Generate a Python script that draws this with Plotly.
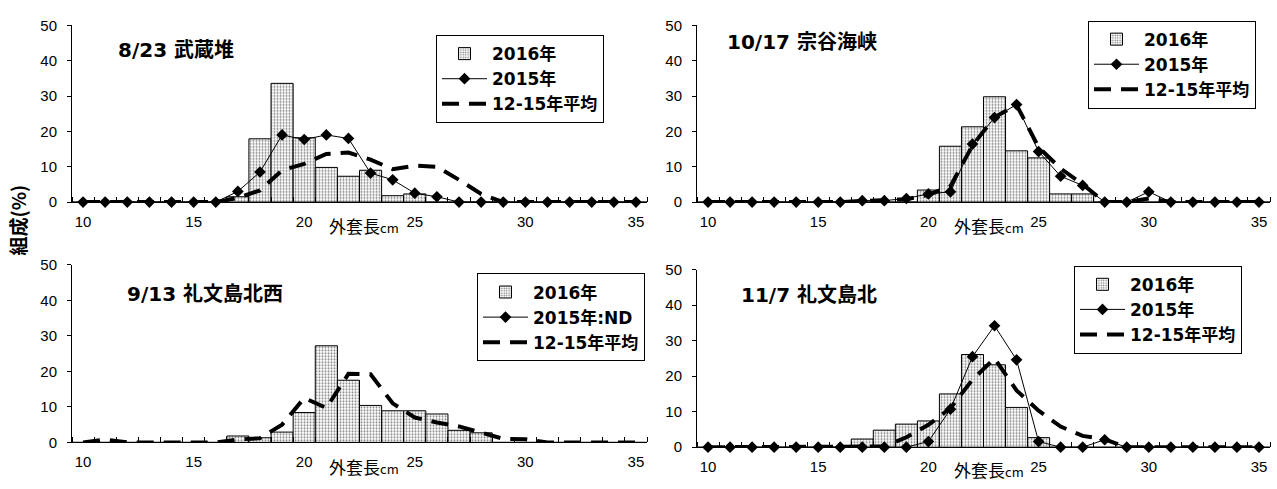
import plotly.graph_objects as go

# ---------------- data ----------------
lengths = list(range(10, 36))  # 外套長 cm categories 10..35
x_tick_labels = [10, 15, 20, 25, 30, 35]
y_tick_labels = [0, 10, 20, 30, 40, 50]

titles = ["8/23 武蔵堆", "10/17 宗谷海峡", "9/13 礼文島北西", "11/7 礼文島北"]
series_names = ["2016年", "2015年", "12-15年平均"]
nd_name = "2015年:ND"

#            10 11 12 13 14 15 16  17    18    19    20    21    22    23    24   25    26    27   28   29 30 31 32 33 34 35
bar_0823 = [0, 0, 0, 0, 0, 0, 0, 1.5, 17.9, 33.6, 18.2, 9.8, 7.3, 9.0, 1.8, 2.3, 0, 0, 0, 0, 0, 0, 0, 0, 0, 0]
y15_0823 = [0, 0, 0, 0, 0, 0, 0, 3.0, 8.5, 19.0, 17.7, 19.0, 18.0, 8.2, 6.3, 2.5, 1.5, 0, 0, 0, 0, 0, 0, 0, 0, 0]
avg_0823 = [0, 0, 0, 0, 0, 0, 0, 1.2, 3.3, 9.0, 10.8, 13.6, 14.0, 12.0, 9.3, 10.3, 10.0, 6.3, 2.3, 0, 0, 0, 0, 0, 0, 0]

bar_1017 = [0, 0, 0, 0, 0, 0, 0, 0, 0, 0, 3.4, 15.8, 21.3, 29.8, 14.5, 12.5, 2.3, 2.3, 0, 0, 0, 0, 0, 0, 0, 0]
y15_1017 = [0, 0, 0, 0, 0, 0, 0, 0.4, 0.4, 1.0, 2.3, 2.9, 16.4, 23.9, 27.6, 14.3, 7.3, 4.7, 0, 0, 2.9, 0, 0, 0, 0, 0]
avg_1017 = [0, 0, 0, 0, 0, 0, 0, 0.3, 0.5, 0.8, 2.0, 4.5, 16.0, 24.0, 27.5, 15.5, 9.5, 5.0, 0, 0, 1.0, 0, 0, 0, 0, 0]

bar_0913 = [0, 0, 0, 0, 0, 0, 0, 1.8, 1.3, 2.9, 8.4, 27.2, 17.5, 10.4, 8.9, 8.9, 8.0, 3.4, 2.7, 0, 0, 0, 0, 0, 0, 0]
avg_0913 = [0, 0.8, 0, 0, 0, 0, 0, 0.8, 1.2, 5.0, 12.5, 9.7, 19.3, 19.2, 11.0, 7.0, 5.6, 4.5, 2.8, 1.0, 0.9, 0, 0, 0, 0, 0]

bar_1107 = [0, 0, 0, 0, 0, 0, 0, 2.3, 4.8, 6.5, 7.4, 15.0, 26.1, 23.2, 11.2, 2.7, 0, 0, 0, 0, 0, 0, 0, 0, 0, 0]
y15_1107 = [0, 0, 0, 0, 0, 0, 0, 0, 0, 0, 1.6, 10.7, 25.5, 34.2, 24.6, 1.6, 0, 0, 2.1, 0, 0, 0, 0, 0, 0, 0]
avg_1107 = [0, 0, 0, 0, 0, 0, 0, 0, 0.2, 2.8, 6.3, 11.0, 19.0, 25.0, 16.0, 10.3, 5.8, 3.2, 2.2, 0, 0, 0, 0, 0, 0, 0]

# ---------------- layout helpers ----------------
W, H = 1277, 489
CJK = "Noto Sans CJK JP"
BOLDMIX = "DejaVu Sans, Noto Sans CJK JP"
NUM = "Liberation Sans"


def px(v):
    return v / W


def py(v):
    return 1 - v / H


panels = [
    # (xaxis id, yaxis id, x-domain px, y0 px, y50 px)
    ("x", "y", (72, 647), 200, 17),
    ("x2", "y2", (697, 1270), 200, 17),
    ("x3", "y3", (72, 647), 449, 265),
    ("x4", "y4", (697, 1270), 454, 270),
]

fig = go.Figure()

data_sets = [
    (bar_0823, y15_0823, avg_0823, series_names[1]),
    (bar_1017, y15_1017, avg_1017, series_names[1]),
    (bar_0913, None, avg_0913, nd_name),
    (bar_1107, y15_1107, avg_1107, series_names[1]),
]

legend_names = ["legend", "legend2", "legend3", "legend4"]

for i, ((xa, ya, _, _, _), (bars, y15, avg, lname)) in enumerate(zip(panels, data_sets)):
    leg = legend_names[i]
    fig.add_trace(go.Bar(
        x=lengths, y=bars, width=1, name=series_names[0], xaxis=xa, yaxis=ya,
        legend=leg,
        marker=dict(color="white", line=dict(color="black", width=1),
                    pattern=dict(shape=".", fgcolor="black", bgcolor="white",
                                 size=3, solidity=0.35)),
        cliponaxis=False,
    ))
    line_kw = dict(mode="lines+markers", line=dict(color="black", width=1),
                   marker=dict(symbol="diamond", size=9, color="black"))
    if y15 is not None:
        fig.add_trace(go.Scatter(x=lengths, y=y15, name=lname, xaxis=xa, yaxis=ya,
                                 legend=leg, cliponaxis=False, **line_kw))
    else:
        fig.add_trace(go.Scatter(x=[None], y=[None], name=lname, xaxis=xa, yaxis=ya,
                                 legend=leg, **line_kw))
    fig.add_trace(go.Scatter(
        x=lengths, y=avg, name=series_names[2], xaxis=xa, yaxis=ya, legend=leg,
        mode="lines", line=dict(color="black", width=4, dash="17px,10px"),
        cliponaxis=False,
    ))

layout = dict(
    width=W, height=H, margin=dict(l=0, r=0, t=0, b=0),
    paper_bgcolor="white", plot_bgcolor="white", barmode="overlay",
    font=dict(family=NUM, color="black"),
)

minor_vals = [v - 0.5 for v in lengths] + [35.5]

for i, (xa, ya, (xl, xr), y0, y50) in enumerate(panels):
    xkey = "xaxis" if xa == "x" else "xaxis" + xa[1:]
    ykey = "yaxis" if ya == "y" else "yaxis" + ya[1:]
    layout[xkey] = dict(
        domain=[px(xl), px(xr)], range=[9.5, 35.5], anchor=ya,
        showline=True, linecolor="black", linewidth=1, mirror=False,
        showgrid=False, zeroline=False,
        tickmode="array", tickvals=x_tick_labels, ticks="",
        ticklabelstandoff=6,
        minor=dict(tickmode="array", tickvals=minor_vals, ticks="inside",
                   ticklen=5, tickcolor="black", tickwidth=1, showgrid=False),
        tickfont=dict(family=NUM, size=15, color="black"),
    )
    layout[ykey] = dict(
        domain=[py(y0), py(y50)], range=[0, 50], anchor=xa,
        showline=True, linecolor="black", linewidth=1,
        showgrid=False, zeroline=False,
        tickmode="array", tickvals=y_tick_labels, ticks="outside",
        ticklen=4, tickcolor="black", ticklabelstandoff=7,
        tickfont=dict(family=NUM, size=15, color="black"),
    )

# legend boxes: (right edge px, top px)
legend_pos = [(604, 27), (1256, 12), (645, 274), (1242, 266)]
for leg, (lx, ly) in zip(legend_names, legend_pos):
    layout[leg] = dict(
        x=px(lx), y=py(ly), xanchor="right", yanchor="top", xref="paper", yref="paper",
        bgcolor="white", bordercolor="black", borderwidth=1,
        font=dict(family=BOLDMIX, size=17, color="black", weight="bold"),
        itemwidth=45, traceorder="normal", tracegroupgap=0,
    )

fig.update_layout(**layout)

annotations = []
title_pos = [(116, 42), (725, 34), (125, 295), (739, 296)]
for t, (tx, ty) in zip(titles, title_pos):
    annotations.append(dict(
        text=t, x=px(tx), y=py(ty), xref="paper", yref="paper",
        xanchor="left", yanchor="middle", showarrow=False,
        font=dict(family=BOLDMIX, size=20, color="black", weight="bold"),
    ))

xlabel_pos = [(364, 224), (989, 224), (364, 474), (989, 477)]
for (lx, ly) in xlabel_pos:
    annotations.append(dict(
        text="外套長<span style='font-size:13px'>cm</span>",
        x=px(lx), y=py(ly), xref="paper", yref="paper",
        xanchor="center", yanchor="middle", showarrow=False,
        font=dict(family=CJK, size=17, color="black"),
    ))

annotations.append(dict(
    text="組成(%)", x=px(17), y=py(219), xref="paper", yref="paper",
    xanchor="center", yanchor="middle", showarrow=False, textangle=-90,
    font=dict(family=CJK, size=19, color="black", weight="bold"),
))

fig.update_layout(annotations=annotations)

fig.write_html("out.html")
